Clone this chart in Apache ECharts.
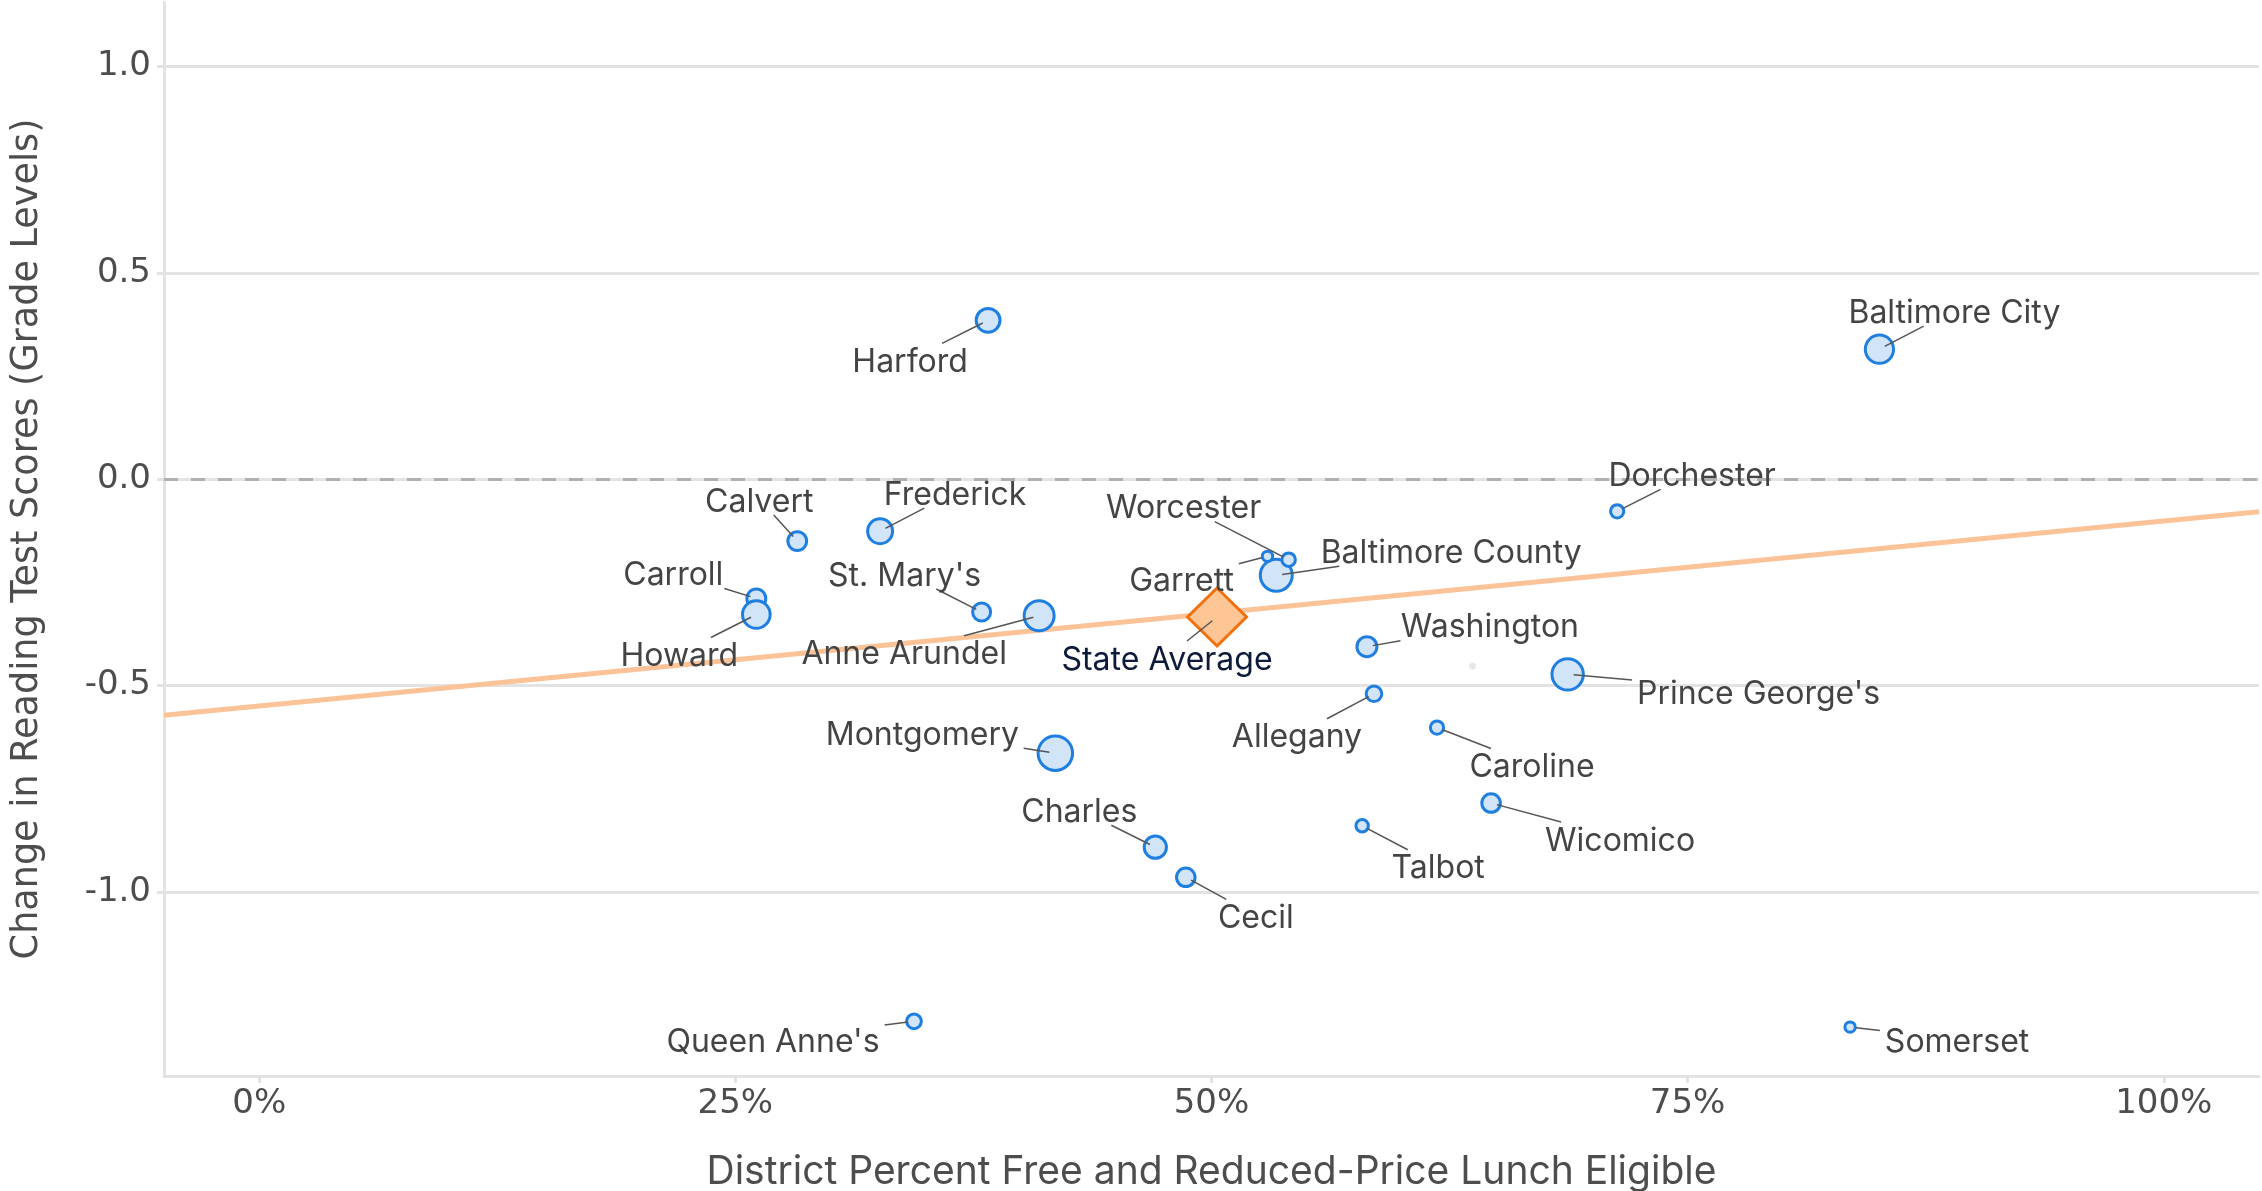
<!DOCTYPE html>
<html>
<head>
<meta charset="utf-8">
<title>Change in Reading Test Scores vs FRL</title>
<script src="https://cdn.jsdelivr.net/npm/echarts@6/dist/echarts.min.js"></script>
<style>
  html, body { margin: 0; padding: 0; background: #fff; }
  #chart { width: 2262px; height: 1191px; }
</style>
</head>
<body>
<div id="chart"></div>
<script>
// district data (biggest bubbles first so small ones sit on top)
const districts = ['Montgomery', 'Baltimore County', "Prince George's", 'Anne Arundel', 'Baltimore City',
  'Carroll', 'Howard', 'Frederick', 'Harford', 'Charles', 'Washington', 'Calvert', 'Wicomico', 'Cecil',
  "St. Mary's", 'Allegany', "Queen Anne's", 'Worcester', 'Dorchester', 'Caroline', 'Talbot', 'Garrett', 'Somerset']
const frlShare = [0.418, 0.534, 0.687, 0.4095, 0.8507,
  0.261, 0.261, 0.326, 0.3827, 0.4705, 0.5816, 0.2825, 0.6468, 0.4865,
  0.3793, 0.5853, 0.3438, 0.5405, 0.713, 0.6184, 0.5791, 0.5294, 0.8353]
const readingChange = [-0.664, -0.233, -0.473, -0.331, 0.315,
  -0.289, -0.328, -0.126, 0.385, -0.892, -0.406, -0.150, -0.785, -0.965,
  -0.322, -0.520, -1.314, -0.195, -0.078, -0.602, -0.840, -0.187, -1.328]
// relative enrollment (bubble area)
const enrollment = [176, 151, 146, 133, 118,
  53, 113, 92, 84, 73, 59, 52, 51, 51,
  48, 36, 32, 27, 26, 26, 23, 16, 16]

// unlabeled grey point
const otherX = [0.637]
const otherY = [-0.453]

const stateName = ['State Average']
const stateX = [0.5029]
const stateY = [-0.334]

// fitted line end points
const trendX = [-0.05, 1.05]
const trendY = [-0.572, -0.079]

const xTicks = [0, 0.25, 0.5, 0.75, 1]
const yTicks = [-1, -0.5, 0, 0.5, 1]

// label placement (pixel offset of label centre from the point)
const labelOffsets = {
  'Harford': [-78, 39],
  'Baltimore City': [75, -39],
  'Dorchester': [75, -38],
  'Calvert': [-38, -42],
  'Frederick': [75, -39],
  'Carroll': [-83, -26],
  'Howard': [-77, 39],
  "St. Mary's": [-77, -39],
  'Anne Arundel': [-135, 36],
  'Worcester': [-105, -54],
  'Garrett': [-86, 22],
  'Baltimore County': [175, -25],
  'State Average': [-50, 40],
  'Washington': [123, -22],
  "Prince George's": [191, 17],
  'Allegany': [-77, 41],
  'Montgomery': [-133, -21],
  'Caroline': [95, 37],
  'Charles': [-76, -38],
  'Wicomico': [129, 35],
  'Talbot': [76, 40],
  'Cecil': [70, 38],
  "Queen Anne's": [-141, 18],
  'Somerset': [107, 12]
}

const LABEL_FONT_SIZE = 32
const measureCtx = document.createElement('canvas').getContext('2d')
measureCtx.font = LABEL_FONT_SIZE + 'px Inter'

const gridColor = '#e3e3e3'
const textColor = '#4d4d4d'

const labelNames = districts.concat(stateName)
const labelPoints = labelNames.map((name, i) =>
  i < districts.length ? [frlShare[i], readingChange[i]] : [stateX[i - districts.length], stateY[i - districts.length]])

// label text plus a leader line pointing from the mark to the label centre
function renderLabel(params, api) {
  const name = labelNames[params.dataIndex]
  const off = labelOffsets[name]
  const p = api.coord([api.value(0), api.value(1)])
  const lx = p[0] + off[0]
  const ly = p[1] + off[1]
  const hw = measureCtx.measureText(name).width / 2 + 5
  const hh = LABEL_FONT_SIZE / 2
  const vx = p[0] - lx
  const vy = p[1] - ly
  const t = Math.min(vx ? hw / Math.abs(vx) : Infinity, vy ? hh / Math.abs(vy) : Infinity)
  const d = Math.hypot(vx, vy)
  const isState = name === stateName[0]
  return {
    type: 'group',
    children: [
      {
        type: 'line',
        shape: { x1: p[0] - vx / d * 6, y1: p[1] - vy / d * 6, x2: lx + vx * t, y2: ly + vy * t },
        style: { stroke: '#555', lineWidth: 1.5 }
      },
      {
        type: 'text',
        x: lx,
        y: ly + 3, // canvas 'middle' sits a little high for Inter
        style: {
          text: name,
          align: 'center',
          verticalAlign: 'middle',
          fontFamily: 'Inter',
          fontSize: LABEL_FONT_SIZE,
          fill: isState ? '#0e1a3c' : '#444'
        }
      }
    ]
  }
}

const chart = echarts.init(document.getElementById('chart'))
chart.setOption({
  animation: false,
  backgroundColor: '#fff',
  grid: { left: 164, right: 3, top: 2, bottom: 115, containLabel: false, outerBoundsMode: 'none' },
  xAxis: {
    type: 'value',
    min: -0.05,
    max: 1.05,
    name: 'District Percent Free and Reduced-Price Lunch Eligible',
    nameLocation: 'middle',
    nameGap: 77,
    nameTextStyle: { fontFamily: 'Inter', fontSize: 39, color: textColor },
    axisLine: { show: true, onZero: false, lineStyle: { color: gridColor, width: 3 } },
    axisTick: { show: true, length: 7, customValues: xTicks, lineStyle: { color: gridColor, width: 3 } },
    axisLabel: {
      customValues: xTicks,
      margin: 11,
      fontFamily: 'DejaVu Sans',
      fontSize: 34,
      color: textColor,
      formatter: v => Math.round(v * 100) + '%'
    },
    splitLine: { show: false }
  },
  yAxis: {
    type: 'value',
    min: -1.4465,
    max: 1.1565,
    name: 'Change in Reading Test Scores (Grade Levels)',
    nameLocation: 'middle',
    nameGap: 118,
    nameTextStyle: { fontFamily: 'DejaVu Sans', fontSize: 36.6, color: textColor },
    axisLine: { show: true, onZero: false, lineStyle: { color: gridColor, width: 3 } },
    axisTick: { show: true, length: 7, customValues: yTicks, lineStyle: { color: gridColor, width: 3 } },
    axisLabel: {
      customValues: yTicks,
      margin: 13,
      fontFamily: 'DejaVu Sans',
      fontSize: 34,
      color: textColor,
      formatter: v => v.toFixed(1)
    },
    splitLine: { show: true, lineStyle: { color: gridColor, width: 3 } }
  },
  series: [
    {
      type: 'line',
      data: trendX.map((x, i) => [x, trendY[i]]),
      symbol: 'none',
      silent: true,
      z: 2,
      lineStyle: { color: '#fdc398', width: 5 },
      markLine: {
        silent: true,
        symbol: 'none',
        label: { show: false },
        lineStyle: { type: [14, 13], color: '#b0b0b0', width: 3 },
        data: [{ yAxis: 0 }]
      }
    },
    {
      type: 'scatter',
      data: otherX.map((x, i) => [x, otherY[i]]),
      symbolSize: 7,
      silent: true,
      z: 3,
      itemStyle: { color: '#dde3ea' }
    },
    {
      type: 'scatter',
      z: 4,
      data: districts.map((name, i) => ({ name: name, value: [frlShare[i], readingChange[i], enrollment[i]] })),
      symbolSize: v => 2.6 * Math.sqrt(v[2]),
      itemStyle: { color: '#d2e5f8', borderColor: '#1f7fe0', borderWidth: 3, opacity: 1 },
      emphasis: { disabled: true }
    },
    {
      type: 'scatter',
      z: 5,
      data: stateName.map((name, i) => ({ name: name, value: [stateX[i], stateY[i]] })),
      symbol: 'diamond',
      symbolSize: [59, 58],
      itemStyle: { color: '#fec595', borderColor: '#f2700d', borderWidth: 3, opacity: 1 },
      emphasis: { disabled: true }
    },
    {
      type: 'custom',
      z: 6,
      silent: true,
      clip: false,
      data: labelPoints,
      renderItem: renderLabel
    }
  ]
})
</script>
</body>
</html>
